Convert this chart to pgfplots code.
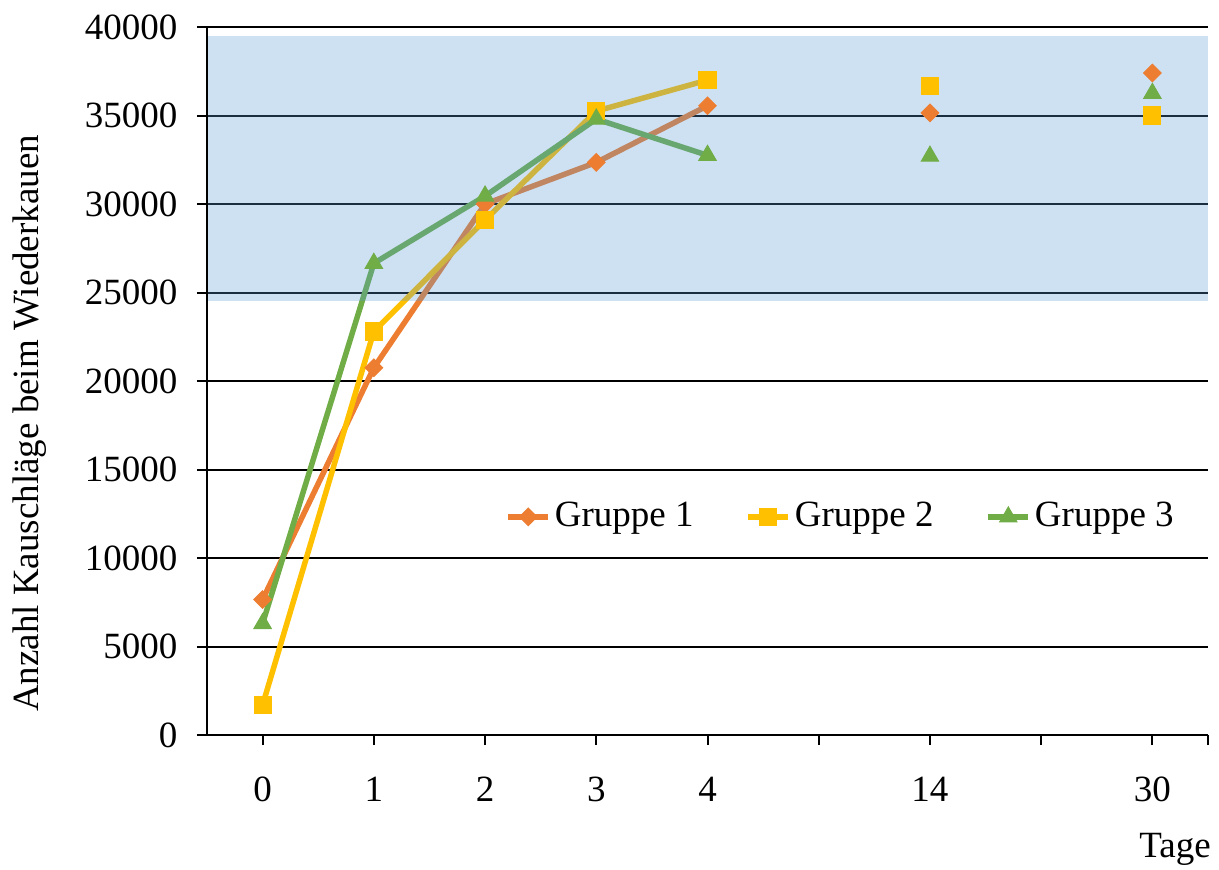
\documentclass[border=0pt]{standalone}
\usepackage{fontspec}
\setmainfont{Liberation Serif}
\usepackage{pgfplots}
\pgfplotsset{compat=1.18}
\definecolor{c1}{HTML}{ED7D31}
\definecolor{c2}{HTML}{FFC000}
\definecolor{c3}{HTML}{70AD47}
\definecolor{bandblue}{HTML}{5B9BD5}
\begin{document}
\fontsize{18.5}{22}\selectfont
\begin{tikzpicture}
\begin{axis}[
  at={(0,0)}, anchor=south west, scale only axis,
  width=500.5pt, height=354pt,
  xmin=-0.5, xmax=8.5, ymin=0, ymax=40000,
  axis lines*=left,
  axis line style={black, line width=1pt},
  tick style={black, line width=1pt},
  tick align=outside,
  major tick length=5pt,
  xtick={0,...,8}, xticklabels={0,1,2,3,4,,14,,30},
  extra x ticks={8.5}, extra x tick labels={},
  ytick={0,5000,...,40000},
  scaled y ticks=false,
  yticklabel style={/pgf/number format/fixed, /pgf/number format/1000 sep={}, xshift=-3.5pt},
  xticklabel style={yshift=-9.5pt},
  /pgf/number format/assume math mode=true,
  ymajorgrids, grid style={black, line width=1pt},
  font=\fontsize{18.5}{22}\selectfont,
  xlabel={Tage}, xlabel style={at={(axis description cs:0.967,-0.162)}, anchor=center},
  ylabel={Anzahl Kauschläge beim Wiederkauen}, ylabel style={at={(axis description cs:-0.177,0.44)}, anchor=center},
  legend style={at={(axis description cs:0.634,0.308)}, anchor=center, draw=none, fill=none,
    legend columns=3, /tikz/every even column/.append style={column sep=24pt},
    font=\fontsize{18.5}{22}\selectfont},
  legend image code/.code={\draw[mark repeat=2,mark phase=2] plot coordinates {(0cm,0cm) (0.35cm,0cm) (0.7cm,0cm)};},
]
\addplot[c1, line width=2.75pt, mark=square*, mark size=3.1pt, mark options={solid, line width=0.5pt, rotate=45}]
  coordinates {(0,7650) (1,20750) (2,30000) (3,32350) (4,35550)};
\addlegendentry{Gruppe 1}
\addplot[c1, only marks, mark=square*, mark size=3.1pt, mark options={line width=0.5pt, rotate=45}, forget plot]
  coordinates {(6,35150) (8,37400)};
\addplot[c2, line width=2.75pt, mark=square*, mark size=4.3pt, mark options={solid, line width=0.5pt}]
  coordinates {(0,1700) (1,22800) (2,29100) (3,35250) (4,37000)};
\addlegendentry{Gruppe 2}
\addplot[c2, only marks, mark=square*, mark size=4.3pt, mark options={line width=0.5pt}, forget plot]
  coordinates {(6,36650) (8,35000)};
\addplot[c3, line width=2.75pt, mark=triangle*, mark size=5pt, mark options={solid, line width=0.5pt}]
  coordinates {(0,6300) (1,26650) (2,30450) (3,34800) (4,32750)};
\addlegendentry{Gruppe 3}
\addplot[c3, only marks, mark=triangle*, mark size=5pt, mark options={line width=0.5pt}, forget plot]
  coordinates {(6,32700) (8,36250)};
\fill[bandblue, fill opacity=0.3] ([xshift=0.5pt]axis cs:-0.5,24500) rectangle (axis cs:8.5,39500);
\end{axis}
\pgfresetboundingbox
\path[use as bounding box] (-103.5pt,-67pt) rectangle (506pt,367.5pt);
\end{tikzpicture}
\end{document}
